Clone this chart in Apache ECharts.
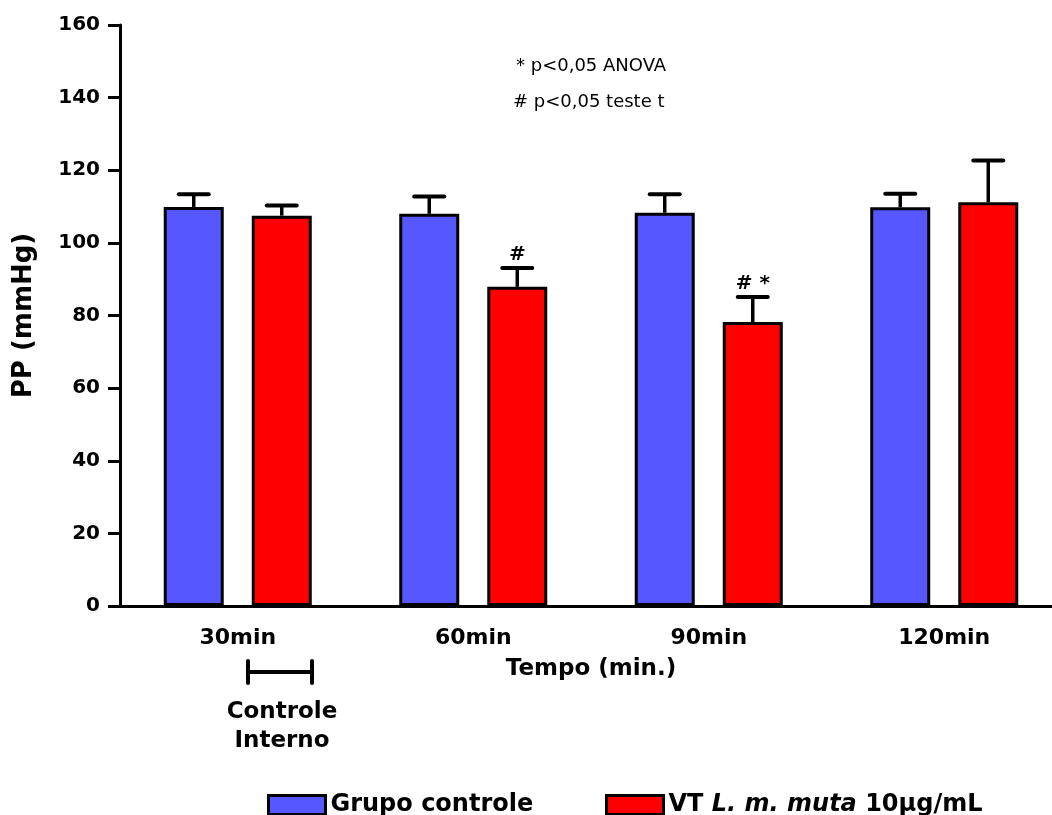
<!DOCTYPE html>
<html>
<head>
<meta charset="utf-8">
<script src="https://cdn.jsdelivr.net/npm/echarts@6/dist/echarts.min.js"></script>
<style>
  html, body { margin: 0; padding: 0; background: #fff; overflow: hidden; }
  #chart { width: 1062px; height: 815px; }
</style>
</head>
<body>
<div id="chart"></div>
<script>
// data (mmHg, mean and upper SEM)
const categories = ['30min', '60min', '90min', '120min']
const grupoControle = [109.9, 108.0, 108.3, 109.8]
const grupoControleErr = [3.5, 4.8, 5.1, 3.7]
const vtMuta = [107.5, 87.9, 78.2, 111.2]
const vtMutaErr = [2.8, 5.2, 6.9, 11.5]
const vtMutaSig = ['', '#', '# *', '']
const yTicks = { min: 0, max: 160, interval: 20 }

const FONT = 'DejaVu Sans'
const BAR_W = 60
const BAR_GAP = 0.467
const CAP = 30
const NAME_CTRL = 'Grupo controle'
const NAME_VT = 'VT L. m. muta 10μg/mL'

function errorBar(offset, marks) {
  return function (params, api) {
    const i = api.value(0)
    const v = api.value(1)
    const e = api.value(2)
    const base = api.coord([i, v])
    const top = api.coord([i, v + e])
    const x = base[0] + offset
    const children = [
      { type: 'line', shape: { x1: x, y1: base[1], x2: x, y2: top[1] },
        style: { stroke: '#000', lineWidth: 3.5 } },
      { type: 'line', shape: { x1: x - CAP / 2, y1: top[1], x2: x + CAP / 2, y2: top[1] },
        style: { stroke: '#000', lineWidth: 4, lineCap: 'round' } },
    ]
    const m = marks && marks[params.dataIndex]
    if (m) {
      children.push({
        type: 'text',
        style: { text: m, x: x, y: top[1] - 3, align: 'center', verticalAlign: 'bottom',
          fontSize: 20, fontWeight: 'bold', fontFamily: FONT, fill: '#000' },
      })
    }
    return { type: 'group', children }
  }
}

const half = (BAR_W + BAR_W * BAR_GAP) / 2

const legendBase = {
  top: 788, itemWidth: 57, itemHeight: 19, icon: 'rect',
  itemStyle: { borderColor: '#000', borderWidth: 3 },
  selectedMode: false,
}

// the plot runs a little past the right edge of the window, as in the original
const chart = echarts.init(document.getElementById('chart'), null, { renderer: 'canvas' })
chart.setOption({
  animation: false,
  backgroundColor: '#fff',
  textStyle: { fontFamily: FONT },
  grid: { left: 120, top: 25, right: 0, bottom: 209, containLabel: false },
  legend: [
    Object.assign({}, legendBase, {
      data: [NAME_CTRL], left: 262,
      textStyle: { fontSize: 24, fontWeight: 'bold', color: '#000', fontFamily: FONT },
    }),
    Object.assign({}, legendBase, {
      data: [NAME_VT], left: 600,
      formatter: () => '{n|VT }{i|L. m. muta}{n| 10μg/mL}',
      textStyle: {
        fontSize: 24, fontWeight: 'bold', color: '#000', fontFamily: FONT,
        rich: {
          n: { fontSize: 24, fontWeight: 'bold', fontFamily: FONT, color: '#000' },
          i: { fontSize: 24, fontWeight: 'bold', fontStyle: 'italic', fontFamily: FONT, color: '#000' },
        },
      },
    }),
  ],
  xAxis: {
    type: 'category',
    data: categories,
    name: 'Tempo (min.)',
    nameLocation: 'middle',
    nameGap: 52,
    nameTextStyle: { fontSize: 23, fontWeight: 'bold', color: '#000', fontFamily: FONT },
    axisLine: { lineStyle: { color: '#000', width: 3 } },
    axisTick: { alignWithLabel: true, length: 15, lineStyle: { color: '#000', width: 3 } },
    axisLabel: { margin: 21, fontSize: 22, fontWeight: 'bold', color: '#000', fontFamily: FONT },
  },
  yAxis: {
    type: 'value',
    min: yTicks.min,
    max: yTicks.max,
    interval: yTicks.interval,
    name: 'PP (mmHg)',
    nameLocation: 'middle',
    nameGap: 83,
    nameTextStyle: { fontSize: 26, fontWeight: 'bold', color: '#000', fontFamily: FONT },
    axisLine: { show: true, lineStyle: { color: '#000', width: 3 } },
    axisTick: { show: true, length: 12, lineStyle: { color: '#000', width: 3 } },
    axisLabel: { margin: 20, fontSize: 20, fontWeight: 'bold', color: '#000', fontFamily: FONT },
    splitLine: { show: false },
  },
  series: [
    {
      name: NAME_CTRL, type: 'bar', data: grupoControle,
      barWidth: BAR_W, barGap: (BAR_GAP * 100) + '%',
      itemStyle: { color: '#5757FF', borderColor: '#000', borderWidth: 3 },
      z: 3,
    },
    {
      name: NAME_VT, type: 'bar', data: vtMuta,
      barWidth: BAR_W, barGap: (BAR_GAP * 100) + '%',
      itemStyle: { color: '#FF0000', borderColor: '#000', borderWidth: 3 },
      z: 3,
    },
    {
      name: 'err-ctrl', type: 'custom',
      data: grupoControle.map((v, i) => [i, v, grupoControleErr[i]]),
      encode: { x: 0, y: 1 },
      renderItem: errorBar(-half, null),
      z: 2,
    },
    {
      name: 'err-vt', type: 'custom',
      data: vtMuta.map((v, i) => [i, v, vtMutaErr[i]]),
      encode: { x: 0, y: 1 },
      renderItem: errorBar(half, vtMutaSig),
      z: 2,
    },
  ],
  graphic: [
    { type: 'text', left: 516, top: 57,
      style: { text: '* p<0,05 ANOVA', fontSize: 18, fontFamily: FONT, fill: '#000' } },
    { type: 'text', left: 513, top: 93,
      style: { text: '# p<0,05 teste t', fontSize: 18, fontFamily: FONT, fill: '#000' } },
    { type: 'line', shape: { x1: 248, y1: 672, x2: 312, y2: 672 },
      style: { stroke: '#000', lineWidth: 4 } },
    { type: 'line', shape: { x1: 248, y1: 661, x2: 248, y2: 683 },
      style: { stroke: '#000', lineWidth: 4, lineCap: 'round' } },
    { type: 'line', shape: { x1: 312, y1: 661, x2: 312, y2: 683 },
      style: { stroke: '#000', lineWidth: 4, lineCap: 'round' } },
    { type: 'text', x: 282, y: 698,
      style: { text: 'Controle\nInterno', align: 'center', fontSize: 23, fontWeight: 'bold',
        lineHeight: 29, fontFamily: FONT, fill: '#000' } },
  ],
})
</script>
</body>
</html>
